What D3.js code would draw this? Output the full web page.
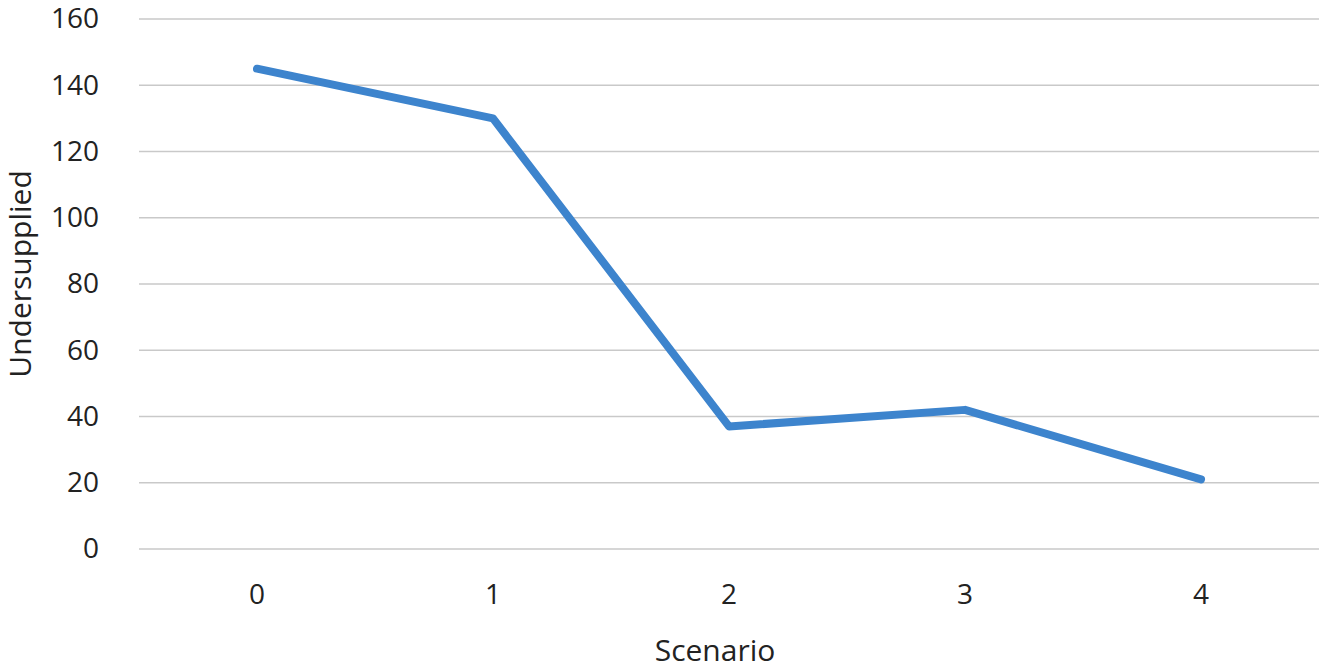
<!DOCTYPE html>
<html>
<head>
<meta charset="utf-8">
<script src="https://cdn.jsdelivr.net/npm/d3@7"></script>
<style>
  body { margin: 0; background: #fff; }
  svg { display: block; }
  .tick text { font-family: "Open Sans", sans-serif; fill: #222; }
</style>
</head>
<body>
<div id="chart"></div>
<script>
// data
var scenarios = ["0", "1", "2", "3", "4"];
var undersupplied = [145, 130, 37, 42, 21];
var yTicks = [0, 20, 40, 60, 80, 100, 120, 140, 160];

var margin = {top: 19, right: 4, bottom: 120, left: 139},
    width = 1323 - margin.left - margin.right,
    height = 669 - margin.top - margin.bottom;

var svg = d3.select("#chart").append("svg")
    .attr("width", 1323)
    .attr("height", 669);
var g = svg.append("g")
    .attr("transform", "translate(" + margin.left + "," + margin.top + ")");

var x = d3.scaleBand().domain(scenarios).range([0, width]),
    y = d3.scaleLinear().domain([0, 160]).range([height, 0]);

// gridlines
g.append("g")
    .selectAll("line")
    .data(yTicks)
    .enter().append("line")
    .attr("x1", 0)
    .attr("x2", width)
    .attr("y1", function (d) { return y(d); })
    .attr("y2", function (d) { return y(d); })
    .attr("stroke", "#c9c9c9")
    .attr("stroke-width", 1.5);

// y axis labels
var yAxis = g.append("g")
    .call(d3.axisLeft(y).tickValues(yTicks).tickSize(0).tickPadding(40));
yAxis.select(".domain").remove();
yAxis.selectAll("text").attr("font-size", 28);

// x axis labels
var xAxis = g.append("g")
    .attr("transform", "translate(0," + height + ")")
    .call(d3.axisBottom(x).tickSize(0).tickPadding(35));
xAxis.select(".domain").remove();
xAxis.selectAll("text").attr("font-size", 28);

// line
var line = d3.line()
    .x(function (d, i) { return x(scenarios[i]) + x.bandwidth() / 2; })
    .y(function (d) { return y(d); });

g.append("path")
    .datum(undersupplied)
    .attr("fill", "none")
    .attr("stroke", "#3d84cd")
    .attr("stroke-width", 8)
    .attr("stroke-linejoin", "round")
    .attr("stroke-linecap", "round")
    .attr("d", line);

// axis titles
svg.append("text")
    .attr("transform", "translate(31,274) rotate(-90)")
    .attr("text-anchor", "middle")
    .attr("font-family", "Open Sans, sans-serif")
    .attr("font-size", 30)
    .attr("fill", "#222")
    .text("Undersupplied");

svg.append("text")
    .attr("x", 715)
    .attr("y", 661)
    .attr("text-anchor", "middle")
    .attr("font-family", "Open Sans, sans-serif")
    .attr("font-size", 30)
    .attr("fill", "#222")
    .text("Scenario");
</script>
</body>
</html>
